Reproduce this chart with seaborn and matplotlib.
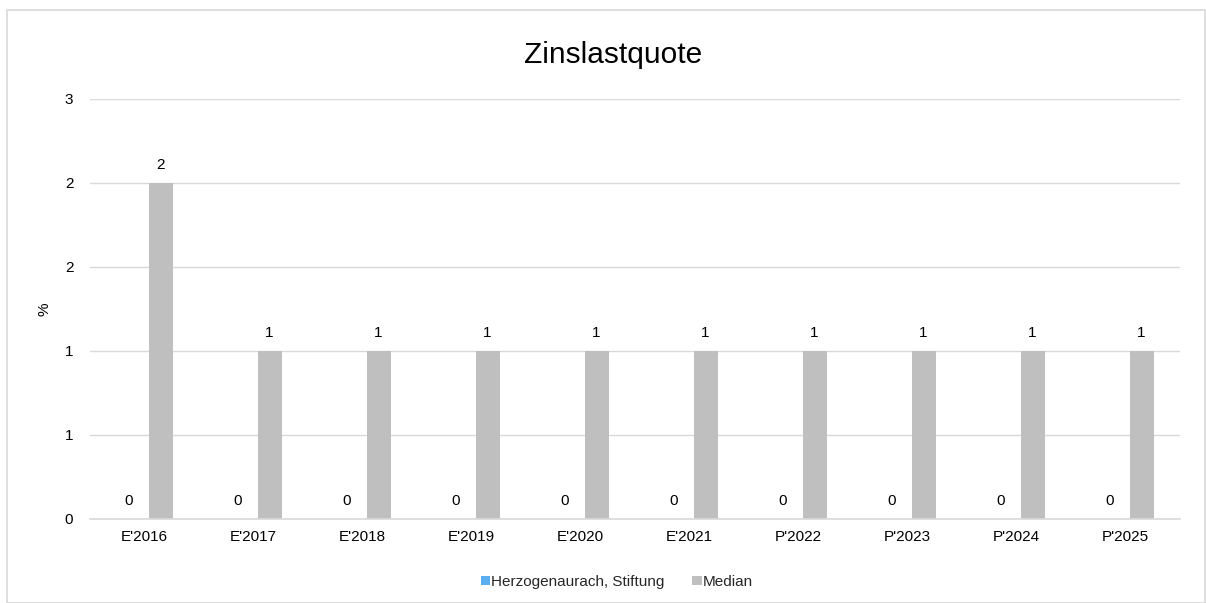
import matplotlib
matplotlib.use("Agg")
import matplotlib.pyplot as plt
import seaborn as sns
import pandas as pd
from matplotlib.patches import Rectangle

categories = ["E'2016", "E'2017", "E'2018", "E'2019", "E'2020", "E'2021",
              "P'2022", "P'2023", "P'2024", "P'2025"]
series_names = ["Herzogenaurach, Stiftung", "Median"]
herzo_values = [0, 0, 0, 0, 0, 0, 0, 0, 0, 0]
median_values = [2.0, 1.0, 1.0, 1.0, 1.0, 1.0, 1.0, 1.0, 1.0, 1.0]
y_ticks = [0, 0.5, 1.0, 1.5, 2.0, 2.5]
y_tick_labels = ["0", "1", "1", "2", "2", "3"]
colors = ["#5AAEF0", "#BFBFBF"]

df = pd.DataFrame({
    "cat": categories * 2,
    "series": [series_names[0]] * len(categories) + [series_names[1]] * len(categories),
    "value": herzo_values + median_values,
})

sns.set_theme(style="white")
plt.rcParams["font.family"] = ["Liberation Sans", "DejaVu Sans"]

fig = plt.figure(figsize=(12.06, 6.03), dpi=100)
ax = fig.add_axes([90 / 1206, 84 / 603, 1090 / 1206, 420 / 603])

sns.barplot(data=df, x="cat", y="value", hue="series", order=categories,
            hue_order=series_names, palette=colors, width=0.588, gap=0.25,
            saturation=1, ax=ax, legend=True, errorbar=None, linewidth=0)

for cont in ax.containers:
    ax.bar_label(cont, labels=[f"{int(v.get_height() + 0.5)}" for v in cont],
                 padding=8, fontsize=11, color="#000000")

ax.set_ylim(0, 2.5)
ax.set_yticks(y_ticks)
ax.set_yticklabels(y_tick_labels)
ax.set_xlim(-0.5, len(categories) - 0.5)
ax.grid(axis="y", color="#D9D9D9", linewidth=1)
ax.set_axisbelow(True)
for s in ["left", "right", "top"]:
    ax.spines[s].set_visible(False)
ax.spines["bottom"].set_color("#D9D9D9")
ax.spines["bottom"].set_linewidth(1.2)
ax.tick_params(axis="both", length=0, labelsize=11, colors="#000000")
ax.tick_params(axis="y", pad=12)
ax.tick_params(axis="x", pad=8)
ax.set_xlabel("")
ax.set_ylabel("%", fontsize=11, labelpad=0, color="#000000")
ax.yaxis.set_label_coords(-38 / 1090, 0.5)

fig.text(613 / 1206, 1 - 55 / 603, "Zinslastquote", fontsize=21.5, color="#000000",
         ha="center", va="center")

leg = ax.get_legend()
handles = leg.legend_handles
leg.remove()
fig.legend(handles, series_names, loc="center", bbox_to_anchor=(617 / 1206, 1 - 582 / 603),
           ncol=2, frameon=False, fontsize=11, handlelength=0.6, handleheight=0.6,
           handletextpad=0.1, columnspacing=1.8)

fig.patches.append(Rectangle((7 / 1206, 0), 1 - 7 / 1206 - 1 / 1206, 1 - 10 / 603,
                             transform=fig.transFigure, fill=False,
                             edgecolor="#D9D9D9", linewidth=1.2))

fig.savefig("out.png", dpi=100)
